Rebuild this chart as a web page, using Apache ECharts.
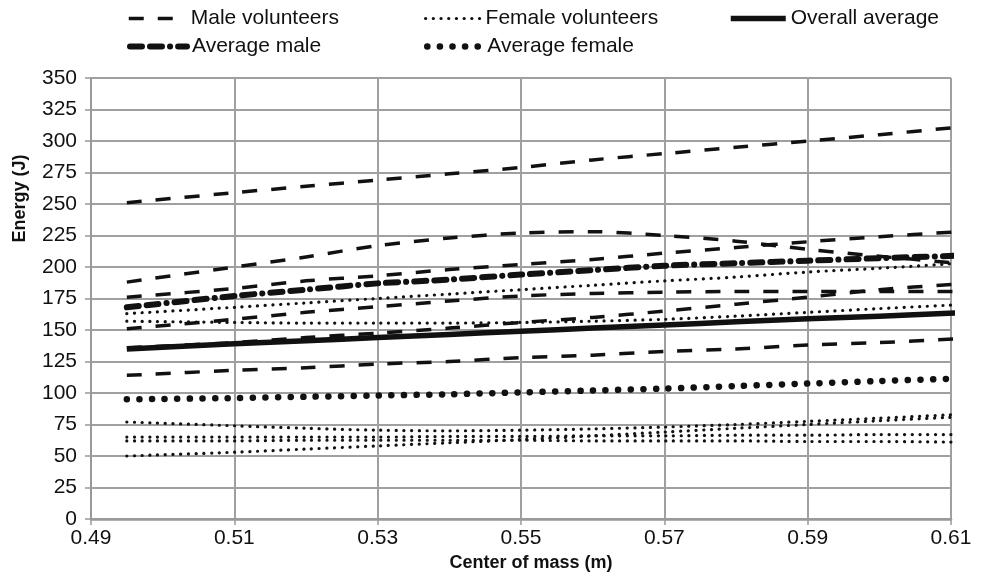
<!DOCTYPE html>
<html>
<head>
<meta charset="utf-8">
<script src="https://cdn.jsdelivr.net/npm/echarts@6/dist/echarts.min.js"></script>
<style>
  html, body { margin: 0; padding: 0; background: #fff; }
  #chart { width: 987px; height: 577px; }
</style>
</head>
<body>
<div id="chart"></div>
<script>
// Center of mass (m) at which each energy value was taken
const centerOfMass = [0.495, 0.51, 0.52, 0.53, 0.54, 0.55, 0.56, 0.57, 0.58, 0.59, 0.60, 0.611];

// Energy (J) per male volunteer
const male1 = [251, 259, 264, 269, 274, 279, 285, 290, 295, 300, 305, 311];
const male2 = [188, 200, 208, 217, 223, 227, 228, 225, 220.5, 214, 208.5, 203];
const male3 = [176, 183, 189, 193, 198, 202, 206, 211, 215.5, 220, 224, 228];
const male4 = [151, 158.5, 164, 168.5, 173, 177, 179, 180, 180.5, 180.5, 180.5, 180.5];
const male5 = [136, 140, 144, 147.5, 151.5, 156, 160, 165, 170.5, 176, 182, 186.5];
const male6 = [114, 118, 120, 123, 125, 128, 130, 133, 135, 138, 140, 143];

// Energy (J) per female volunteer
const female1 = [163, 168, 171.5, 175, 178.5, 182, 185.5, 189, 192, 196, 199, 203];
const female2 = [157, 156, 155.5, 155.5, 155.5, 156, 157, 158.5, 161, 164, 167, 170];
const female3 = [77, 74, 72, 70.5, 70, 70.5, 71.5, 73, 75, 77.5, 80, 83];
const female4 = [65, 65, 65, 65, 65.5, 65.5, 66, 66, 66.5, 66.5, 67, 67];
const female5 = [62, 62, 62.5, 62.5, 62.5, 62.5, 62, 62, 62, 61.5, 61.5, 61];
const female6 = [50, 53, 55.5, 58, 60.5, 63, 66, 69, 72, 75, 78, 81];

// Group averages
const averageMale = [168, 177, 182, 187, 190, 194, 197.5, 201, 203, 205, 207, 209];
const averageFemale = [95, 96, 97, 98, 99, 100.5, 102, 103.5, 105.5, 107.5, 109.5, 111.5];
const overallAverage = [135, 139, 141.5, 144, 146.5, 149, 151.5, 154, 156.5, 159, 161, 163.5];

const maleSeries = [male1, male2, male3, male4, male5, male6];
const femaleSeries = [female1, female2, female3, female4, female5, female6];

const FONT = 'Liberation Sans, Arial, sans-serif';
const INK = '#111';
const GRID = '#a0a0a0';

const styles = {
  'Male volunteers':   { width: 3.5, type: [15, 14], cap: 'butt' },
  'Female volunteers': { width: 3.2, type: [0.1, 7.6], cap: 'round' },
  'Overall average':   { width: 5.5, type: 'solid', cap: 'butt' },
  'Average male':      { width: 6,   type: [12, 8, 12, 8, 0.1, 8], cap: 'round' },
  'Average female':    { width: 6.5, type: [0.1, 12.5], cap: 'round' }
};

function pairs(values) {
  return centerOfMass.map((x, i) => [x, values[i]]);
}

function lineSeries(name, values) {
  const s = styles[name];
  return {
    name: name,
    type: 'line',
    data: pairs(values),
    smooth: 0.3,
    symbol: 'none',
    silent: true,
    lineStyle: { color: INK, width: s.width, type: s.type, cap: s.cap, join: 'round' },
    itemStyle: { color: INK },
    z: 2
  };
}

const series = [];
maleSeries.forEach(v => series.push(lineSeries('Male volunteers', v)));
femaleSeries.forEach(v => series.push(lineSeries('Female volunteers', v)));
series.push(lineSeries('Average male', averageMale));
series.push(lineSeries('Average female', averageFemale));
series.push(lineSeries('Overall average', overallAverage));

function legendAt(name, left, top, width) {
  const s = styles[name];
  return {
    data: [name],
    left: left,
    top: top,
    padding: 0,
    itemWidth: width,
    itemHeight: 14,
    selectedMode: false,
    itemStyle: { opacity: 0 },
    lineStyle: { width: s.width, type: s.type, cap: s.cap, color: INK },
    textStyle: { fontFamily: FONT, fontSize: 21, color: INK }
  };
}

const option = {
  animation: false,
  backgroundColor: '#fff',
  legend: [
    legendAt('Male volunteers', 127, 8, 57),
    legendAt('Female volunteers', 424, 8, 55),
    legendAt('Overall average', 728, 8, 55),
    legendAt('Average male', 127, 36, 57),
    legendAt('Average female', 424, 36, 55)
  ],
  grid: { left: 91, right: 36, top: 78, bottom: 58, outerBoundsMode: 'none', containLabel: false },
  xAxis: {
    type: 'value',
    min: 0.49,
    max: 0.61,
    interval: 0.02,
    name: 'Center of mass (m)',
    nameLocation: 'middle',
    nameGap: 34,
    nameTextStyle: { fontFamily: FONT, fontSize: 18, fontWeight: 'bold', color: INK, padding: [0, 0, 0, 20] },
    axisLine: { show: true, lineStyle: { color: '#999', width: 2.5 } },
    axisTick: { show: true, length: 6, lineStyle: { color: '#999', width: 1.5 } },
    axisLabel: {
      fontFamily: FONT, fontSize: 21, color: INK, margin: 9,
      formatter: v => v.toFixed(2)
    },
    splitLine: { show: true, lineStyle: { color: GRID, width: 2 } }
  },
  yAxis: {
    type: 'value',
    min: 0,
    max: 350,
    interval: 25,
    name: 'Energy (J)',
    nameLocation: 'middle',
    nameGap: 62,
    nameTextStyle: { fontFamily: FONT, fontSize: 18, fontWeight: 'bold', color: INK, padding: [0, 0, 0, 200] },
    axisLine: { show: true, lineStyle: { color: '#999', width: 2 } },
    axisTick: { show: true, length: 6, lineStyle: { color: '#999', width: 1.5 } },
    axisLabel: { fontFamily: FONT, fontSize: 21, color: INK, margin: 14 },
    splitLine: { show: true, lineStyle: { color: GRID, width: 2 } }
  },
  series: series
};

const chart = echarts.init(document.getElementById('chart'), null, { renderer: 'canvas' });
chart.setOption(option);
</script>
</body>
</html>
